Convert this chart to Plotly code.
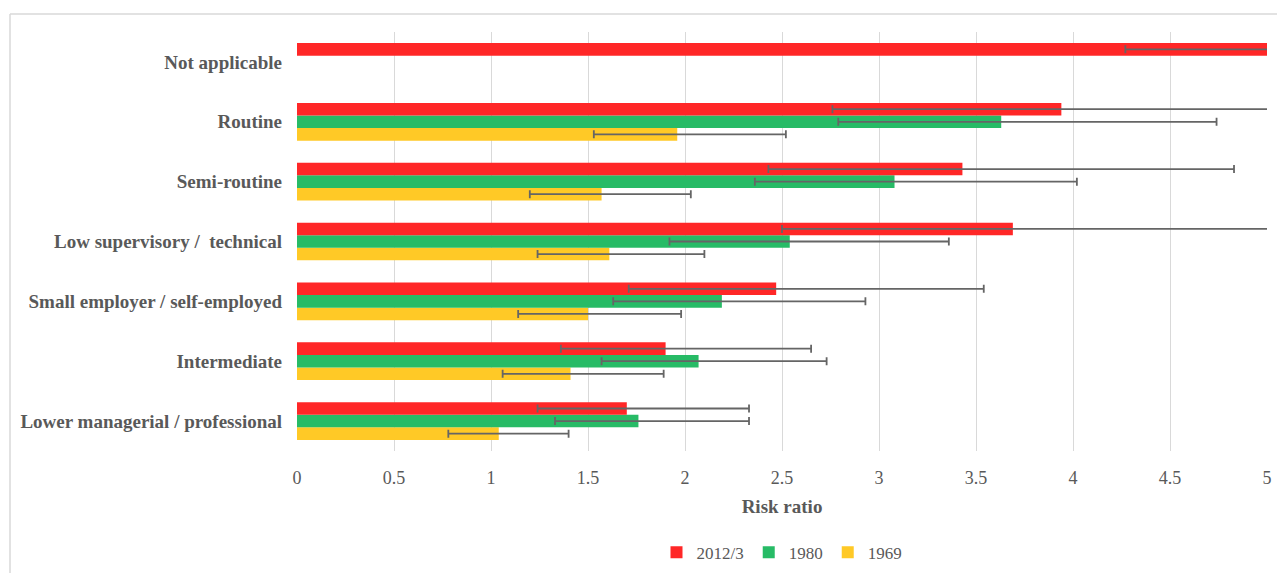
import plotly.graph_objects as go

# Occupational classes, bottom to top
categories = [
    "Lower managerial / professional",
    "Intermediate",
    "Small employer / self-employed",
    "Low supervisory /  technical",
    "Semi-routine",
    "Routine",
    "Not applicable",
]

# Risk ratios with lower / upper confidence limits
rr_2012 = [1.70, 1.90, 2.47, 3.69, 3.43, 3.94, 5.20]
lo_2012 = [1.24, 1.36, 1.71, 2.50, 2.43, 2.76, 4.27]
hi_2012 = [2.33, 2.65, 3.54, 5.60, 4.83, 5.80, 6.50]

rr_1980 = [1.76, 2.07, 2.19, 2.54, 3.08, 3.63, None]
lo_1980 = [1.33, 1.57, 1.63, 1.92, 2.36, 2.79, None]
hi_1980 = [2.33, 2.73, 2.93, 3.36, 4.02, 4.74, None]

rr_1969 = [1.04, 1.41, 1.50, 1.61, 1.57, 1.96, None]
lo_1969 = [0.78, 1.06, 1.14, 1.24, 1.20, 1.53, None]
hi_1969 = [1.40, 1.89, 1.98, 2.10, 2.03, 2.52, None]

x_ticks = [0, 0.5, 1, 1.5, 2, 2.5, 3, 3.5, 4, 4.5, 5]

FONT = "Liberation Serif"
TEXT = "#595959"
ERR = "#656565"


def err(vals, lo, hi):
    plus = [None if v is None else h - v for v, h in zip(vals, hi)]
    minus = [None if v is None else v - l for v, l in zip(vals, lo)]
    return dict(type="data", symmetric=False, array=plus, arrayminus=minus,
                color=ERR, thickness=1.8, width=4)


series = [
    ("1969", rr_1969, lo_1969, hi_1969, "#FFC926"),
    ("1980", rr_1980, lo_1980, hi_1980, "#27BB66"),
    ("2012/3", rr_2012, lo_2012, hi_2012, "#FF2727"),
]

fig = go.Figure()
for name, vals, lo, hi, color in series:
    fig.add_trace(go.Bar(
        name=name, y=categories, x=vals, orientation="h",
        marker=dict(color=color, line=dict(width=0)),
        error_x=err(vals, lo, hi),
    ))

fig.update_layout(
    width=1277, height=573,
    margin=dict(l=297, r=10, t=32, b=122, autoexpand=False),
    paper_bgcolor="white", plot_bgcolor="white",
    barmode="group", bargap=0.37, bargroupgap=0,
    font=dict(family=FONT, color=TEXT, size=16),
    xaxis=dict(
        range=[0, 5], tickvals=x_ticks, ticktext=[f"{t:g}" for t in x_ticks],
        showgrid=True, gridcolor="#D9D9D9", gridwidth=1.3,
        zeroline=False, showline=False, ticks="",
        tickfont=dict(family=FONT, size=18, color=TEXT),
        ticklabelstandoff=14,
        title=dict(text="<b>Risk ratio</b>", font=dict(family=FONT, size=19, color=TEXT),
                   standoff=12),
        automargin=False,
        fixedrange=True,
    ),
    yaxis=dict(
        showgrid=False, zeroline=False, showline=False, ticks="",
        tickfont=dict(family=FONT, size=19, color=TEXT),
        ticklabelstandoff=14,
        automargin=False,
        fixedrange=True,
    ),
    legend=dict(
        orientation="h", traceorder="reversed",
        x=0.5, xanchor="center", y=-0.243, yanchor="middle",
        font=dict(family=FONT, size=17, color=TEXT),
        itemwidth=30,
    ),
    showlegend=True,
)

# Bold category labels
fig.update_yaxes(tickvals=categories, ticktext=[f"<b>{c}</b>" for c in categories])

# Chart frame (top and left edges)
fig.add_shape(type="line", xref="paper", yref="paper",
              x0=(10 - 297) / 970, x1=1.02, y0=(451 - 14) / 419, y1=(451 - 14) / 419,
              line=dict(color="#D9D9D9", width=1.5))
fig.add_shape(type="line", xref="paper", yref="paper",
              x0=(10 - 297) / 970, x1=(10 - 297) / 970, y0=(451 - 14) / 419, y1=-0.4,
              line=dict(color="#D9D9D9", width=1.5))

fig.write_html("out.html", config={"displayModeBar": False})
